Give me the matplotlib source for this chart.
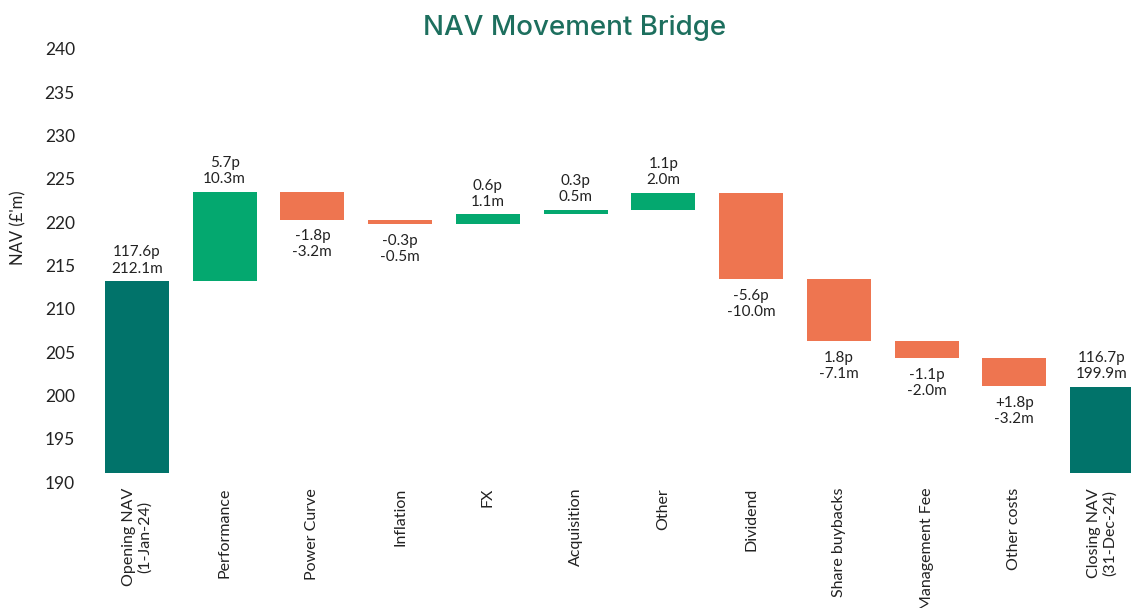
import matplotlib
matplotlib.use("Agg")
import matplotlib.pyplot as plt
from matplotlib.transforms import ScaledTranslation

plt.rcParams["font.family"] = ["Lato", "DejaVu Sans"]

CATEGORIES = [
    "Opening NAV\n(1-Jan-24)", "Performance", "Power Curve", "Inflation", "FX",
    "Acquisition", "Other", "Dividend", "Share buybacks", "Management Fee",
    "Other costs", "Closing NAV\n(31-Dec-24)",
]
# first and last are totals, the rest are movements (GBP m)
MOVES_M = [212.1, 10.3, -3.2, -0.5, 1.1, 0.5, 2.0, -10.0, -7.1, -2.0, -3.2, 199.9]
PENCE = ["117.6p", "5.7p", "-1.8p", "-0.3p", "0.6p", "0.3p", "1.1p",
         "-5.6p", "1.8p", "-1.1p", "+1.8p", "116.7p"]
MILLIONS = ["212.1m", "10.3m", "-3.2m", "-0.5m", "1.1m", "0.5m", "2.0m",
            "-10.0m", "-7.1m", "-2.0m", "-3.2m", "199.9m"]

BASE = 190
TOTAL_COLOR = "#01736A"
UP_COLOR = "#04A86F"
DOWN_COLOR = "#EE7550"
TITLE_COLOR = "#1D6F5E"

fig = plt.figure(figsize=(11.31, 6.08), dpi=100)
ax = fig.add_axes([0.0822, 0.2225, 0.931, 0.713])

last = len(MOVES_M) - 1
running = 0.0
for i, (cat, move) in enumerate(zip(CATEGORIES, MOVES_M)):
    if i == 0 or i == last:
        bottom, height, color = BASE, move - BASE, TOTAL_COLOR
        running = move
    else:
        bottom, height = running, move
        color = UP_COLOR if move > 0 else DOWN_COLOR
        running += move
    ax.bar(i, height, bottom=bottom, width=0.73, color=color)

    label = "%s\n%s" % (PENCE[i], MILLIONS[i])
    top = max(bottom, bottom + height)
    low = min(bottom, bottom + height)
    if height > 0:
        ax.annotate(label, (i, top), xytext=(0, 4), textcoords="offset points",
                    ha="center", va="bottom", fontsize=11, linespacing=1.2,
                    color="#222222")
    else:
        ax.annotate(label, (i, low), xytext=(0, -7), textcoords="offset points",
                    ha="center", va="top", fontsize=11, linespacing=1.2,
                    color="#222222")

ax.set_xlim(-0.5, len(CATEGORIES) - 0.5)
ax.set_ylim(190, 240)
ax.set_yticks(range(190, 241, 5))
ax.set_xticks(range(len(CATEGORIES)))
ax.set_xticklabels(CATEGORIES, rotation=90, fontsize=11.5, ha="center",
                   va="top", multialignment="center", linespacing=1.15)
ax.tick_params(axis="y", length=0, labelsize=12.5, colors="#222222", pad=13)
ax.tick_params(axis="x", length=0, colors="#222222", pad=11)
for spine in ax.spines.values():
    spine.set_visible(False)

# the source draws the value labels a little below their gridline
shift = ScaledTranslation(0, -0.096, fig.dpi_scale_trans)
for lab in ax.get_yticklabels():
    lab.set_transform(lab.get_transform() + shift)

fig.text(18 / 1131, 0.626, "NAV (£'m)", rotation=90, ha="center", va="center",
         fontsize=12, color="#222222")
fig.text(575 / 1131, 1 - 28 / 608, "NAV Movement Bridge", ha="center", va="center",
         fontsize=20, color=TITLE_COLOR, family=["Inter", "DejaVu Sans"],
         fontweight="medium")

fig.savefig("out.png", dpi=100)
